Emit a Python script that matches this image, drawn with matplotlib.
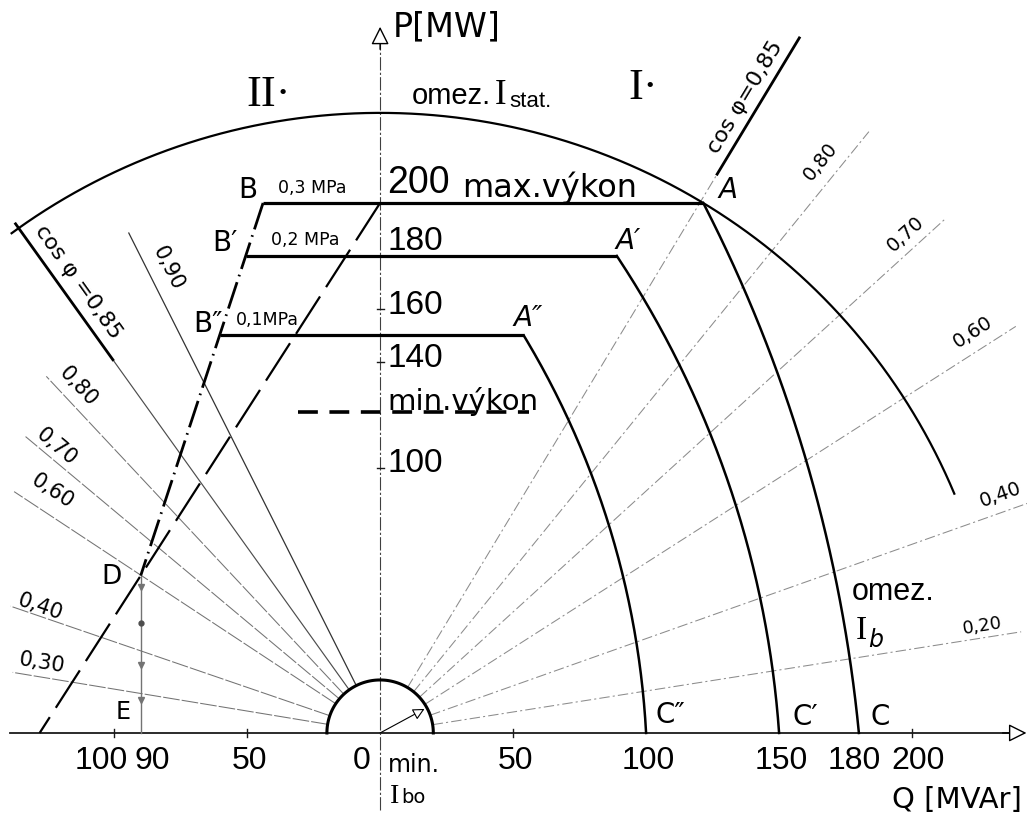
import numpy as np
import matplotlib.pyplot as plt

# ---- values --------------------------------------------------------------
stator_r = 234.0                    # MVA, omez. I_stat
stator_span = (22.7, 126.3)         # deg, drawn part of the stator arc
ibo_r = 20.0                        # min. I_bo half circle
ibo_ang = 28.5

# hydrogen pressure levels: flat part (P), its right end A (Q),
# a point of the rotor current curve at P = 100 and its foot C on the Q axis
pressure_lbl = ["0,3 MPa", "0,2 MPa", "0,1MPa"]
p_flat = [200, 180, 150]
q_a = [121.5, 89, 54]
q_mid = [161, 129, 78.5]
p_mid = 100
q_c = [180, 150, 100]

# left limit: dash-dot line B -> D, dashed line from (0, 200) to the Q axis
q_b, p_b = -44, 200
q_d = -90
q_dash_foot, p_dash_top = -128, 200
p_min = 121                         # min. výkon

# cos phi rays: angle from the Q axis (deg), outer radius (MVA)
pf_right = ["0,80", "0,70", "0,60", "0,40", "0,20"]
ang_right = [51, 42.4, 32.7, 19.6, 9.0]
r_right = [292, 288, 284, 262, 244]
pf_left = ["0,90", "0,80", "0,70", "0,60", "0,40", "0,30"]
ang_left = [63.4, 47, 40, 33.5, 19, 9.4]      # from the -Q axis
r_left = [211, 184, 174, 165, 147, 140]
ang85_right, r85_right = 59, (246, 306)
ang85_left, r85_left = 54.5, (173, 236)

q_tick_val = [-100, -90, -50, 0, 50, 100, 150, 180, 200]
q_tick_lbl = ["100", "90", "50", "0", "50", "100", "150", "180", "200"]
q_tick_marks = [-100, -50, 50, 200]
p_tick_val = [200, 180, 160, 140, 100]
p_tick_lbl = ["200", "180", "160", "140", "100"]
p_tick_marks = [100, 140, 160]
e_marks = [55, 25.7, 12.5]
e_dot = 41.5

# ---- figure ----------------------------------------------------------------
plt.rcParams['font.family'] = ['DejaVu Sans']
NUM = ['Liberation Sans', 'DejaVu Sans']
SERIF = ['Liberation Serif', 'DejaVu Serif']

fig = plt.figure(figsize=(10.27, 8.22), dpi=100)
ax = fig.add_axes([0, 0, 1, 1])
ax.set_xlim(-142.9, 243.2)
ax.set_ylim(-33.6, 276.6)
ax.axis('off')


def ray(ang, r0, r1, left=False):
    t = np.radians(180 - ang if left else ang)
    return [r0 * np.cos(t), r1 * np.cos(t)], [r0 * np.sin(t), r1 * np.sin(t)]


def circle3(p1, p2, p3):
    (x1, y1), (x2, y2), (x3, y3) = p1, p2, p3
    m = 2 * np.array([[x2 - x1, y2 - y1], [x3 - x1, y3 - y1]])
    v = np.array([x2**2 - x1**2 + y2**2 - y1**2, x3**2 - x1**2 + y3**2 - y1**2])
    cx, cy = np.linalg.solve(m, v)
    return cx, cy, np.hypot(x1 - cx, y1 - cy)


# axes
ax.plot([-139, 238], [0, 0], color='0.1', lw=1.3)
ax.plot([0, 0], [-29, 262], color='0.25', lw=0.8, ls=(0, (12, 2, 2, 2)))
arr = dict(arrowstyle='-|>,head_length=1.1,head_width=0.55', fc='white',
           ec='black', lw=1.0, mutation_scale=10, shrinkA=0, shrinkB=0)
ax.annotate('', xy=(0, 266.5), xytext=(0, 258), arrowprops=arr)
ax.annotate('', xy=(243, 0), xytext=(234, 0), arrowprops=arr)
for q in q_tick_marks:
    ax.plot([q, q], [-1.6, 1.6], color='0.1', lw=1)
for p in p_tick_marks:
    ax.plot([-1.3, 1.3], [p, p], color='0.1', lw=1)

# cos phi rays
ray_r = dict(color='0.55', lw=0.75, ls=(0, (10, 3, 2, 3)))
for a, r in zip(ang_right, r_right):
    ax.plot(*ray(a, ibo_r, r), **ray_r)
for a, r in zip(ang_left, r_left):
    style = dict(color='0.2', lw=0.9) if a > 60 else dict(color='0.45', lw=0.75, ls=(0, (16, 2)))
    ax.plot(*ray(a, ibo_r, r, left=True), **style)
ax.plot(*ray(ang85_right, ibo_r, r85_right[0]), **ray_r)
ax.plot(*ray(ang85_right, *r85_right), color='black', lw=2.0)
ax.plot(*ray(ang85_left, ibo_r, r85_left[0], left=True), color='0.3', lw=0.85)
ax.plot(*ray(ang85_left, *r85_left, left=True), color='black', lw=2.0)

# stator current limit
t = np.radians(np.linspace(*stator_span, 300))
ax.plot(stator_r * np.cos(t), stator_r * np.sin(t), color='black', lw=1.6)

# min. excitation half circle and its arrow
t = np.radians(np.linspace(0, 180, 100))
ax.plot(ibo_r * np.cos(t), ibo_r * np.sin(t), color='black', lw=2.2)
ta = np.radians(ibo_ang)
ax.annotate('', xy=(ibo_r * 0.95 * np.cos(ta), ibo_r * 0.95 * np.sin(ta)), xytext=(0, 0),
            arrowprops=dict(arrowstyle='-|>,head_length=0.7,head_width=0.35', fc='white',
                            ec='black', lw=0.8, mutation_scale=10, shrinkA=0, shrinkB=0))

# left limit lines
p_d = p_dash_top * (1 - q_d / q_dash_foot)
ax.plot([0, q_dash_foot], [p_dash_top, 0], color='black', lw=1.6, ls=(0, (20, 5)))
ax.plot([q_b, q_d], [p_b, p_d], color='black', lw=2.0, ls=(0, (10, 2.2, 0.6, 2.2)))
ax.plot([q_d, q_d], [p_d, 0], color='0.45', lw=1.0)
ax.plot([q_d] * len(e_marks), e_marks, 'v', color='0.45', ms=5)
ax.plot([q_d], [e_dot], 'o', color='0.3', ms=3.5)

# pressure levels: flat line B-A and rotor current curve A-C
for p, qa, qm, qc in zip(p_flat, q_a, q_mid, q_c):
    qb = q_b + (p - p_b) * (q_d - q_b) / (p_d - p_b)
    ax.plot([qb, qa], [p, p], color='black', lw=2.3, solid_capstyle='butt')
    cx, cy, r = circle3((qa, p), (qm, p_mid), (qc, 0))
    t = np.linspace(np.arctan2(-cy, qc - cx), np.arctan2(p - cy, qa - cx), 200)
    ax.plot(cx + r * np.cos(t), cy + r * np.sin(t), color='black', lw=1.8)

# min. výkon
ax.plot([-31, 56], [p_min, p_min], color='black', lw=2.6, ls=(0, (5.5, 3.2)))

# ---- texts -------------------------------------------------------------------
off = {-100: -5, -90: 4.5, 0: -6.8, 180: -1.8, 200: 2.2}
for v, s in zip(q_tick_val, q_tick_lbl):
    ax.text(v + off.get(v, 0.8), -10.5, s, family=NUM, fontsize=23, ha='center', va='center')
poff = {200: 7.5, 180: 5.5}
for v, s in zip(p_tick_val, p_tick_lbl):
    ax.text(2.6, v + poff.get(v, 1.5), s, family=NUM, fontsize=27 if v == 200 else 24,
            ha='left', va='center')
ax.text(30.8, 202.3, "max.výkon", fontsize=23, va='baseline')
ax.text(2.6, 122.0, "min.výkon", fontsize=21, va='baseline')

ax.text(4.9, 266.4, "P[MW]", fontsize=24, va='center')
ax.text(216.9, -25.3, "Q [MVAr]", fontsize=21, ha='center', va='center')

ax.text(-42, 240.8, "II·", family=SERIF, fontsize=32, ha='center', va='center')
ax.text(98.9, 243.4, "I·", family=SERIF, fontsize=32, ha='center', va='center')
ax.text(12, 237.4, "omez.", family=NUM, fontsize=21, va='baseline')
ax.text(43.0, 237.4, "I", family=SERIF, fontsize=25, va='baseline')
ax.text(48.6, 236.2, "stat.", family=NUM, fontsize=16, va='baseline')

ax.text(192.9, 53.2, "omez.", family=NUM, fontsize=22, ha='center', va='center')
ax.text(178.8, 35.5, "I", family=SERIF, fontsize=24, va='baseline')
ax.text(183.4, 32.5, "b", fontsize=17, va='baseline', style='italic')

ax.text(3, -14.7, "min.", fontsize=17, va='baseline')
ax.text(3.6, -26.5, "I", family=SERIF, fontsize=20, va='baseline')
ax.text(7.8, -26.5, "bo", fontsize=14, va='baseline')

pt = dict(fontsize=20, ha='center', va='center')
ax.text(-49.6, 204.9, "B", **pt)
ax.text(-58.3, 184.9, "B′", **pt)
ax.text(-64.7, 154.3, "B″", **pt)
ax.text(-25.6, 205.7, pressure_lbl[0], fontsize=12.5, ha='center', va='center')
ax.text(-28.2, 186.0, pressure_lbl[1], fontsize=12.5, ha='center', va='center')
ax.text(-42.5, 155.8, pressure_lbl[2], fontsize=12.5, ha='center', va='center')
ax.text(130.8, 204.9, "A", style='italic', **pt)
ax.text(93.2, 185.7, "A′", style='italic', **pt)
ax.text(55.6, 156.6, "A″", style='italic', **pt)
ax.text(109, 6.8, "C″", **pt)
ax.text(159.8, 6.0, "C′", **pt)
ax.text(188, 6.0, "C", **pt)
ax.text(-100.8, 58.9, "D", fontsize=19, ha='center', va='center')
ax.text(-96.6, 7.9, "E", fontsize=17, ha='center', va='center')

# cos phi labels
lab_left = [(-79.7, 175.5), (-113.5, 130.9), (-121.8, 107.9), (-123.3, 91.3),
            (-127.8, 47.5), (-127.1, 26.4)]
for (x, y), s, a in zip(lab_left, pf_left, ang_left):
    ax.text(x, y, s, fontsize=15, rotation=-a, ha='center', va='center',
            rotation_mode='anchor')
lab_right = [(165.4, 215.5), (197.4, 188.3), (222.9, 151.3), (233.1, 89.8), (226.3, 40.4)]
for (x, y), s, a in zip(lab_right, pf_right, ang_right):
    ax.text(x, y, s, fontsize=14 if a > 10 else 13, rotation=a, ha='center', va='center',
            rotation_mode='anchor')
ax.text(-113.5, 170.2, "cos φ =0,85", fontsize=16, rotation=-ang85_left, ha='center',
        va='center', rotation_mode='anchor')
ax.text(137.2, 240, "cos φ=0,85", fontsize=16, rotation=ang85_right, ha='center',
        va='center', rotation_mode='anchor')

fig.savefig("out.png", dpi=100, facecolor='white')
